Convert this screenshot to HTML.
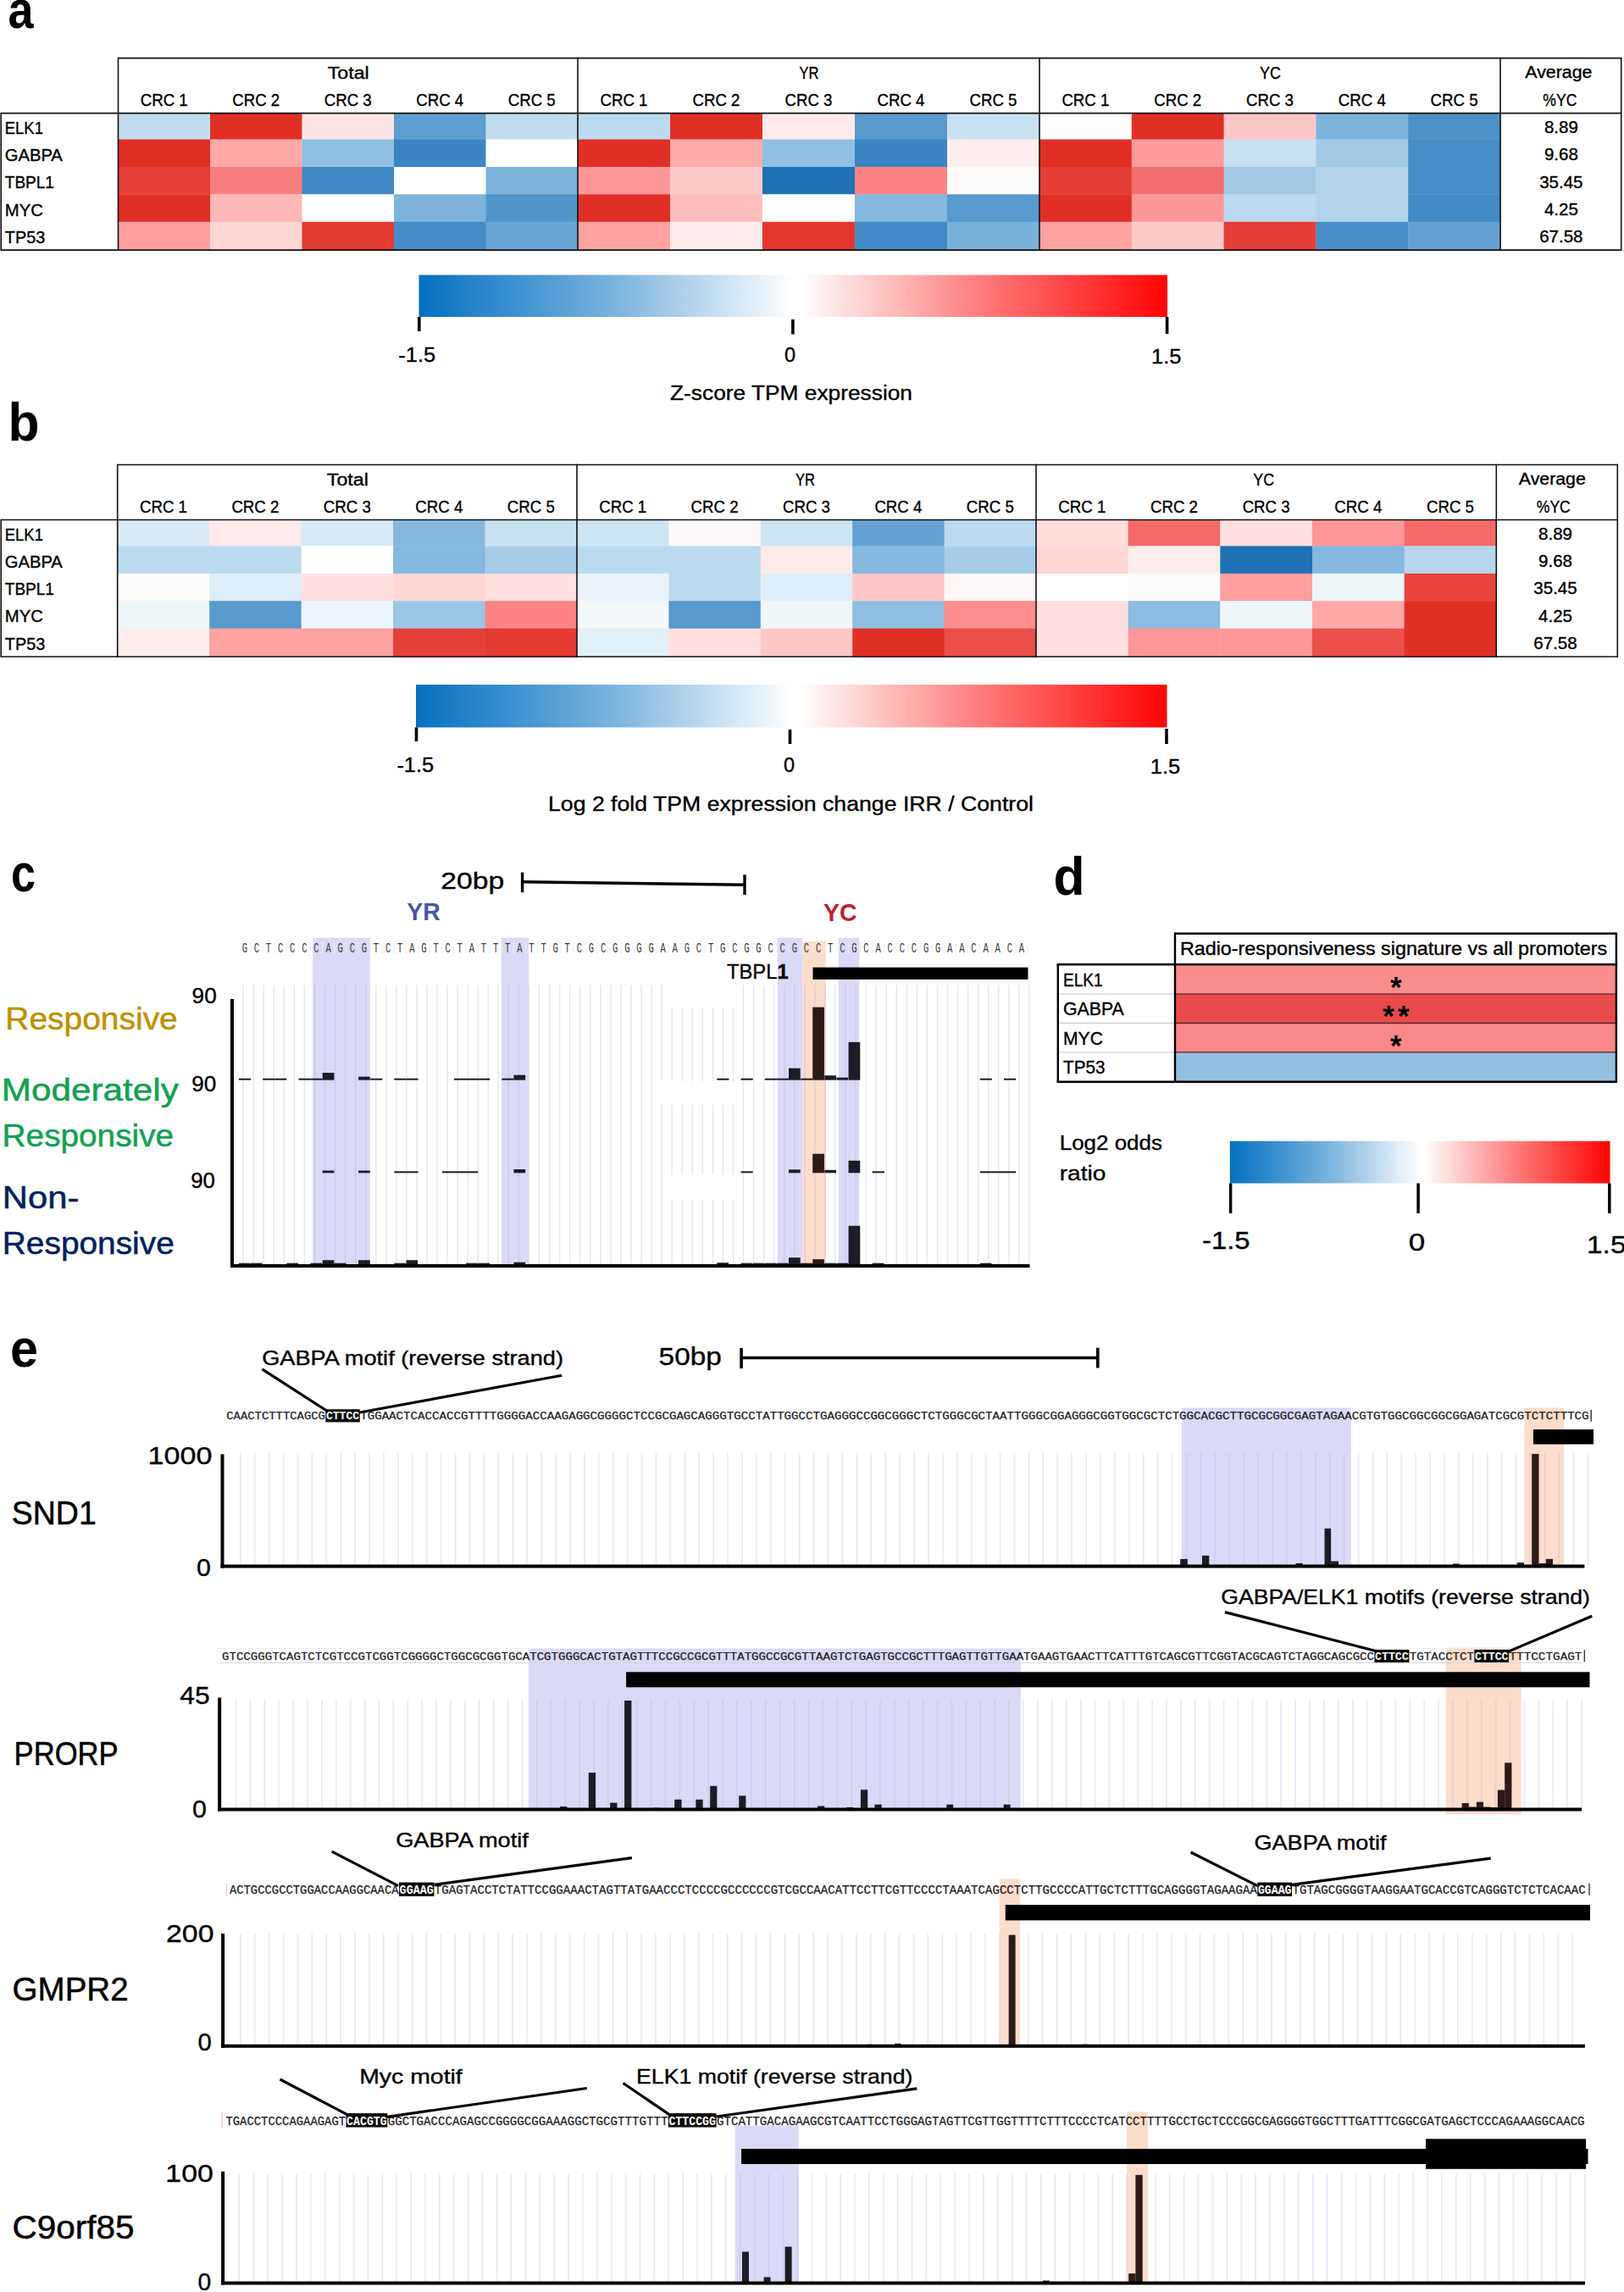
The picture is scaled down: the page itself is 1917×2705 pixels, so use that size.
<!DOCTYPE html>
<html lang="en"><head><meta charset="utf-8"><title>Figure</title>
<style>
html,body{margin:0;padding:0;background:#fff}
svg{display:block;font-family:"Liberation Sans",sans-serif}
</style></head>
<body>
<svg width="1917" height="2705" viewBox="0 0 1917 2705">
<defs>
<linearGradient id="cb" x1="0" y1="0" x2="1" y2="0">
<stop offset="0" stop-color="#0470c0"/><stop offset="0.25" stop-color="#74b0dc"/><stop offset="0.5" stop-color="#ffffff"/><stop offset="0.51" stop-color="#ffffff"/><stop offset="0.75" stop-color="#ff7c7c"/><stop offset="1" stop-color="#ff0303"/>
</linearGradient>
</defs>
<rect width="1917" height="2705" fill="#fff"/>
<text x="9.5" y="33.3" font-size="63" textLength="30" lengthAdjust="spacingAndGlyphs" font-weight="bold">a</text>
<rect x="139.5" y="133.6" width="108.9" height="31.3" fill="rgb(193,221,239)"/>
<rect x="248" y="133.6" width="108.9" height="31.3" fill="rgb(224,48,38)"/>
<rect x="356.5" y="133.6" width="108.9" height="31.3" fill="rgb(254,230,230)"/>
<rect x="465" y="133.6" width="108.9" height="31.3" fill="rgb(95,158,208)"/>
<rect x="573.5" y="133.6" width="108.9" height="31.3" fill="rgb(193,221,239)"/>
<rect x="139.5" y="164.5" width="108.9" height="32.9" fill="rgb(224,48,38)"/>
<rect x="248" y="164.5" width="108.9" height="32.9" fill="rgb(254,168,168)"/>
<rect x="356.5" y="164.5" width="108.9" height="32.9" fill="rgb(144,191,225)"/>
<rect x="465" y="164.5" width="108.9" height="32.9" fill="rgb(60,133,194)"/>
<rect x="573.5" y="164.5" width="108.9" height="32.9" fill="rgb(255,255,255)"/>
<rect x="139.5" y="197" width="108.9" height="32.7" fill="rgb(229,65,57)"/>
<rect x="248" y="197" width="108.9" height="32.7" fill="rgb(249,127,127)"/>
<rect x="356.5" y="197" width="108.9" height="32.7" fill="rgb(64,136,196)"/>
<rect x="465" y="197" width="108.9" height="32.7" fill="rgb(255,255,255)"/>
<rect x="573.5" y="197" width="108.9" height="32.7" fill="rgb(126,179,219)"/>
<rect x="139.5" y="229.3" width="108.9" height="32.9" fill="rgb(224,48,38)"/>
<rect x="248" y="229.3" width="108.9" height="32.9" fill="rgb(254,183,183)"/>
<rect x="356.5" y="229.3" width="108.9" height="32.9" fill="rgb(255,255,255)"/>
<rect x="465" y="229.3" width="108.9" height="32.9" fill="rgb(126,179,219)"/>
<rect x="573.5" y="229.3" width="108.9" height="32.9" fill="rgb(82,149,203)"/>
<rect x="139.5" y="261.8" width="108.9" height="33.7" fill="rgb(254,160,160)"/>
<rect x="248" y="261.8" width="108.9" height="33.7" fill="rgb(254,214,214)"/>
<rect x="356.5" y="261.8" width="108.9" height="33.7" fill="rgb(227,58,50)"/>
<rect x="465" y="261.8" width="108.9" height="33.7" fill="rgb(69,139,198)"/>
<rect x="573.5" y="261.8" width="108.9" height="33.7" fill="rgb(104,165,212)"/>
<rect x="682" y="133.6" width="109.4" height="31.3" fill="rgb(188,218,238)"/>
<rect x="791" y="133.6" width="109.4" height="31.3" fill="rgb(224,48,38)"/>
<rect x="900" y="133.6" width="109.4" height="31.3" fill="rgb(254,234,234)"/>
<rect x="1009" y="133.6" width="109.4" height="31.3" fill="rgb(88,154,206)"/>
<rect x="1118" y="133.6" width="109.4" height="31.3" fill="rgb(200,225,241)"/>
<rect x="682" y="164.5" width="109.4" height="32.9" fill="rgb(224,48,38)"/>
<rect x="791" y="164.5" width="109.4" height="32.9" fill="rgb(254,172,172)"/>
<rect x="900" y="164.5" width="109.4" height="32.9" fill="rgb(144,191,225)"/>
<rect x="1009" y="164.5" width="109.4" height="32.9" fill="rgb(60,133,194)"/>
<rect x="1118" y="164.5" width="109.4" height="32.9" fill="rgb(254,238,238)"/>
<rect x="682" y="197" width="109.4" height="32.7" fill="rgb(254,152,152)"/>
<rect x="791" y="197" width="109.4" height="32.7" fill="rgb(254,203,203)"/>
<rect x="900" y="197" width="109.4" height="32.7" fill="rgb(33,113,181)"/>
<rect x="1009" y="197" width="109.4" height="32.7" fill="rgb(251,131,131)"/>
<rect x="1118" y="197" width="109.4" height="32.7" fill="rgb(254,251,251)"/>
<rect x="682" y="229.3" width="109.4" height="32.9" fill="rgb(224,48,38)"/>
<rect x="791" y="229.3" width="109.4" height="32.9" fill="rgb(254,189,189)"/>
<rect x="900" y="229.3" width="109.4" height="32.9" fill="rgb(255,255,255)"/>
<rect x="1009" y="229.3" width="109.4" height="32.9" fill="rgb(133,184,222)"/>
<rect x="1118" y="229.3" width="109.4" height="32.9" fill="rgb(88,154,206)"/>
<rect x="682" y="261.8" width="109.4" height="33.7" fill="rgb(254,162,162)"/>
<rect x="791" y="261.8" width="109.4" height="33.7" fill="rgb(254,234,234)"/>
<rect x="900" y="261.8" width="109.4" height="33.7" fill="rgb(226,54,45)"/>
<rect x="1009" y="261.8" width="109.4" height="33.7" fill="rgb(66,138,197)"/>
<rect x="1118" y="261.8" width="109.4" height="33.7" fill="rgb(122,177,218)"/>
<rect x="1227" y="133.6" width="109.2" height="31.3" fill="rgb(254,253,253)"/>
<rect x="1335.8" y="133.6" width="109.2" height="31.3" fill="rgb(224,48,38)"/>
<rect x="1444.6" y="133.6" width="109.2" height="31.3" fill="rgb(254,199,199)"/>
<rect x="1553.4" y="133.6" width="109.2" height="31.3" fill="rgb(126,179,219)"/>
<rect x="1662.2" y="133.6" width="109.2" height="31.3" fill="rgb(77,146,201)"/>
<rect x="1227" y="164.5" width="109.2" height="32.9" fill="rgb(224,48,38)"/>
<rect x="1335.8" y="164.5" width="109.2" height="32.9" fill="rgb(254,156,156)"/>
<rect x="1444.6" y="164.5" width="109.2" height="32.9" fill="rgb(200,225,241)"/>
<rect x="1553.4" y="164.5" width="109.2" height="32.9" fill="rgb(162,202,230)"/>
<rect x="1662.2" y="164.5" width="109.2" height="32.9" fill="rgb(71,141,198)"/>
<rect x="1227" y="197" width="109.2" height="32.7" fill="rgb(229,62,55)"/>
<rect x="1335.8" y="197" width="109.2" height="32.7" fill="rgb(244,110,110)"/>
<rect x="1444.6" y="197" width="109.2" height="32.7" fill="rgb(162,202,230)"/>
<rect x="1553.4" y="197" width="109.2" height="32.7" fill="rgb(177,212,235)"/>
<rect x="1662.2" y="197" width="109.2" height="32.7" fill="rgb(71,141,198)"/>
<rect x="1227" y="229.3" width="109.2" height="32.9" fill="rgb(224,48,38)"/>
<rect x="1335.8" y="229.3" width="109.2" height="32.9" fill="rgb(254,152,152)"/>
<rect x="1444.6" y="229.3" width="109.2" height="32.9" fill="rgb(188,218,238)"/>
<rect x="1553.4" y="229.3" width="109.2" height="32.9" fill="rgb(177,212,235)"/>
<rect x="1662.2" y="229.3" width="109.2" height="32.9" fill="rgb(66,138,197)"/>
<rect x="1227" y="261.8" width="109.2" height="33.7" fill="rgb(254,162,162)"/>
<rect x="1335.8" y="261.8" width="109.2" height="33.7" fill="rgb(254,203,203)"/>
<rect x="1444.6" y="261.8" width="109.2" height="33.7" fill="rgb(229,62,55)"/>
<rect x="1553.4" y="261.8" width="109.2" height="33.7" fill="rgb(73,143,199)"/>
<rect x="1662.2" y="261.8" width="109.2" height="33.7" fill="rgb(100,161,210)"/>
<text x="411.25" y="92.9" font-size="20.5" text-anchor="middle" textLength="49" lengthAdjust="spacingAndGlyphs" stroke="#000" stroke-width="0.35">Total</text>
<text x="193.75" y="125" font-size="21" text-anchor="middle" textLength="56" lengthAdjust="spacingAndGlyphs" stroke="#000" stroke-width="0.35">CRC 1</text>
<text x="302.25" y="125" font-size="21" text-anchor="middle" textLength="56" lengthAdjust="spacingAndGlyphs" stroke="#000" stroke-width="0.35">CRC 2</text>
<text x="410.75" y="125" font-size="21" text-anchor="middle" textLength="56" lengthAdjust="spacingAndGlyphs" stroke="#000" stroke-width="0.35">CRC 3</text>
<text x="519.25" y="125" font-size="21" text-anchor="middle" textLength="56" lengthAdjust="spacingAndGlyphs" stroke="#000" stroke-width="0.35">CRC 4</text>
<text x="627.75" y="125" font-size="21" text-anchor="middle" textLength="56" lengthAdjust="spacingAndGlyphs" stroke="#000" stroke-width="0.35">CRC 5</text>
<text x="955" y="92.9" font-size="20.5" text-anchor="middle" textLength="23" lengthAdjust="spacingAndGlyphs" stroke="#000" stroke-width="0.35">YR</text>
<text x="736.5" y="125" font-size="21" text-anchor="middle" textLength="56" lengthAdjust="spacingAndGlyphs" stroke="#000" stroke-width="0.35">CRC 1</text>
<text x="845.5" y="125" font-size="21" text-anchor="middle" textLength="56" lengthAdjust="spacingAndGlyphs" stroke="#000" stroke-width="0.35">CRC 2</text>
<text x="954.5" y="125" font-size="21" text-anchor="middle" textLength="56" lengthAdjust="spacingAndGlyphs" stroke="#000" stroke-width="0.35">CRC 3</text>
<text x="1063.5" y="125" font-size="21" text-anchor="middle" textLength="56" lengthAdjust="spacingAndGlyphs" stroke="#000" stroke-width="0.35">CRC 4</text>
<text x="1172.5" y="125" font-size="21" text-anchor="middle" textLength="56" lengthAdjust="spacingAndGlyphs" stroke="#000" stroke-width="0.35">CRC 5</text>
<text x="1499.5" y="92.9" font-size="20.5" text-anchor="middle" textLength="24.8" lengthAdjust="spacingAndGlyphs" stroke="#000" stroke-width="0.35">YC</text>
<text x="1281.4" y="125" font-size="21" text-anchor="middle" textLength="56" lengthAdjust="spacingAndGlyphs" stroke="#000" stroke-width="0.35">CRC 1</text>
<text x="1390.2" y="125" font-size="21" text-anchor="middle" textLength="56" lengthAdjust="spacingAndGlyphs" stroke="#000" stroke-width="0.35">CRC 2</text>
<text x="1499" y="125" font-size="21" text-anchor="middle" textLength="56" lengthAdjust="spacingAndGlyphs" stroke="#000" stroke-width="0.35">CRC 3</text>
<text x="1607.8" y="125" font-size="21" text-anchor="middle" textLength="56" lengthAdjust="spacingAndGlyphs" stroke="#000" stroke-width="0.35">CRC 4</text>
<text x="1716.6" y="125" font-size="21" text-anchor="middle" textLength="56" lengthAdjust="spacingAndGlyphs" stroke="#000" stroke-width="0.35">CRC 5</text>
<text x="1839.85" y="92.3" font-size="20.5" text-anchor="middle" textLength="79" lengthAdjust="spacingAndGlyphs" stroke="#000" stroke-width="0.35">Average</text>
<text x="1841.35" y="125.3" font-size="20.5" text-anchor="middle" textLength="40" lengthAdjust="spacingAndGlyphs" stroke="#000" stroke-width="0.35">%YC</text>
<text x="5.8" y="157.6" font-size="21" textLength="45.1" lengthAdjust="spacingAndGlyphs" stroke="#000" stroke-width="0.35">ELK1</text>
<text x="1842.85" y="156.9" font-size="20.5" text-anchor="middle" stroke="#000" stroke-width="0.35">8.89</text>
<text x="5.8" y="189.9" font-size="21" textLength="68" lengthAdjust="spacingAndGlyphs" stroke="#000" stroke-width="0.35">GABPA</text>
<text x="1842.85" y="189.2" font-size="20.5" text-anchor="middle" stroke="#000" stroke-width="0.35">9.68</text>
<text x="5.8" y="222.2" font-size="21" textLength="58.1" lengthAdjust="spacingAndGlyphs" stroke="#000" stroke-width="0.35">TBPL1</text>
<text x="1842.85" y="221.5" font-size="20.5" text-anchor="middle" stroke="#000" stroke-width="0.35">35.45</text>
<text x="5.8" y="254.5" font-size="21" textLength="45.1" lengthAdjust="spacingAndGlyphs" stroke="#000" stroke-width="0.35">MYC</text>
<text x="1842.85" y="253.8" font-size="20.5" text-anchor="middle" stroke="#000" stroke-width="0.35">4.25</text>
<text x="5.8" y="286.8" font-size="21" textLength="47.5" lengthAdjust="spacingAndGlyphs" stroke="#000" stroke-width="0.35">TP53</text>
<text x="1842.85" y="286.1" font-size="20.5" text-anchor="middle" stroke="#000" stroke-width="0.35">67.58</text>
<line x1="139.5" y1="68.6" x2="1913.7" y2="68.6" stroke="#111" stroke-width="1.6"/>
<line x1="1.2" y1="133.6" x2="1913.7" y2="133.6" stroke="#111" stroke-width="1.6"/>
<line x1="1.2" y1="295.1" x2="1913.7" y2="295.1" stroke="#111" stroke-width="1.6"/>
<line x1="1.2" y1="132.8" x2="1.2" y2="295.9" stroke="#111" stroke-width="1.6"/>
<line x1="139.5" y1="67.8" x2="139.5" y2="295.9" stroke="#111" stroke-width="1.6"/>
<line x1="682" y1="67.8" x2="682" y2="295.9" stroke="#111" stroke-width="1.6"/>
<line x1="1227" y1="67.8" x2="1227" y2="295.9" stroke="#111" stroke-width="1.6"/>
<line x1="1771" y1="67.8" x2="1771" y2="295.9" stroke="#111" stroke-width="1.6"/>
<line x1="1913.7" y1="67.8" x2="1913.7" y2="295.9" stroke="#111" stroke-width="1.6"/>
<rect x="494.5" y="324.5" width="883.5" height="49.5" fill="url(#cb)"/>
<line x1="494.8" y1="374" x2="494.8" y2="391" stroke="#000" stroke-width="3.6"/>
<line x1="935.9" y1="377" x2="935.9" y2="394.5" stroke="#000" stroke-width="3.6"/>
<line x1="1377.6" y1="374" x2="1377.6" y2="394" stroke="#000" stroke-width="3.6"/>
<text x="492.2" y="427.2" font-size="23.5" text-anchor="middle" textLength="43.8" lengthAdjust="spacingAndGlyphs" stroke="#000" stroke-width="0.35">-1.5</text>
<text x="932.6" y="427.2" font-size="23.5" text-anchor="middle" stroke="#000" stroke-width="0.35">0</text>
<text x="1376.7" y="429" font-size="23.5" text-anchor="middle" textLength="35.5" lengthAdjust="spacingAndGlyphs" stroke="#000" stroke-width="0.35">1.5</text>
<text x="791" y="472" font-size="23" textLength="286" lengthAdjust="spacingAndGlyphs" stroke="#000" stroke-width="0.35">Z-score TPM expression</text>
<text x="9.5" y="520.2" font-size="63" textLength="37" lengthAdjust="spacingAndGlyphs" font-weight="bold">b</text>
<rect x="138.7" y="613.5" width="108.86" height="31.3" fill="rgb(215,234,245)"/>
<rect x="247.16" y="613.5" width="108.86" height="31.3" fill="rgb(254,234,234)"/>
<rect x="355.62" y="613.5" width="108.86" height="31.3" fill="rgb(215,234,245)"/>
<rect x="464.08" y="613.5" width="108.86" height="31.3" fill="rgb(133,184,222)"/>
<rect x="572.54" y="613.5" width="108.86" height="31.3" fill="rgb(200,225,241)"/>
<rect x="138.7" y="644.4" width="108.86" height="32.9" fill="rgb(188,218,238)"/>
<rect x="247.16" y="644.4" width="108.86" height="32.9" fill="rgb(188,218,238)"/>
<rect x="355.62" y="644.4" width="108.86" height="32.9" fill="rgb(255,255,255)"/>
<rect x="464.08" y="644.4" width="108.86" height="32.9" fill="rgb(133,184,222)"/>
<rect x="572.54" y="644.4" width="108.86" height="32.9" fill="rgb(166,205,232)"/>
<rect x="138.7" y="676.9" width="108.86" height="32.7" fill="rgb(254,251,251)"/>
<rect x="247.16" y="676.9" width="108.86" height="32.7" fill="rgb(222,237,247)"/>
<rect x="355.62" y="676.9" width="108.86" height="32.7" fill="rgb(254,224,224)"/>
<rect x="464.08" y="676.9" width="108.86" height="32.7" fill="rgb(254,214,214)"/>
<rect x="572.54" y="676.9" width="108.86" height="32.7" fill="rgb(254,224,224)"/>
<rect x="138.7" y="709.2" width="108.86" height="32.9" fill="rgb(239,247,251)"/>
<rect x="247.16" y="709.2" width="108.86" height="32.9" fill="rgb(88,154,206)"/>
<rect x="355.62" y="709.2" width="108.86" height="32.9" fill="rgb(237,246,251)"/>
<rect x="464.08" y="709.2" width="108.86" height="32.9" fill="rgb(155,198,229)"/>
<rect x="572.54" y="709.2" width="108.86" height="32.9" fill="rgb(251,131,131)"/>
<rect x="138.7" y="741.7" width="108.86" height="33.7" fill="rgb(254,238,238)"/>
<rect x="247.16" y="741.7" width="108.86" height="33.7" fill="rgb(254,162,162)"/>
<rect x="355.62" y="741.7" width="108.86" height="33.7" fill="rgb(254,162,162)"/>
<rect x="464.08" y="741.7" width="108.86" height="33.7" fill="rgb(229,65,57)"/>
<rect x="572.54" y="741.7" width="108.86" height="33.7" fill="rgb(227,58,50)"/>
<rect x="681" y="613.5" width="108.8" height="31.3" fill="rgb(206,229,243)"/>
<rect x="789.4" y="613.5" width="108.8" height="31.3" fill="rgb(254,249,249)"/>
<rect x="897.8" y="613.5" width="108.8" height="31.3" fill="rgb(206,229,243)"/>
<rect x="1006.2" y="613.5" width="108.8" height="31.3" fill="rgb(100,161,210)"/>
<rect x="1114.6" y="613.5" width="108.8" height="31.3" fill="rgb(188,218,238)"/>
<rect x="681" y="644.4" width="108.8" height="32.9" fill="rgb(188,218,238)"/>
<rect x="789.4" y="644.4" width="108.8" height="32.9" fill="rgb(188,218,238)"/>
<rect x="897.8" y="644.4" width="108.8" height="32.9" fill="rgb(254,234,234)"/>
<rect x="1006.2" y="644.4" width="108.8" height="32.9" fill="rgb(133,184,222)"/>
<rect x="1114.6" y="644.4" width="108.8" height="32.9" fill="rgb(166,205,232)"/>
<rect x="681" y="676.9" width="108.8" height="32.7" fill="rgb(233,243,249)"/>
<rect x="789.4" y="676.9" width="108.8" height="32.7" fill="rgb(188,218,238)"/>
<rect x="897.8" y="676.9" width="108.8" height="32.7" fill="rgb(222,237,247)"/>
<rect x="1006.2" y="676.9" width="108.8" height="32.7" fill="rgb(254,199,199)"/>
<rect x="1114.6" y="676.9" width="108.8" height="32.7" fill="rgb(254,247,247)"/>
<rect x="681" y="709.2" width="108.8" height="32.9" fill="rgb(244,249,252)"/>
<rect x="789.4" y="709.2" width="108.8" height="32.9" fill="rgb(88,154,206)"/>
<rect x="897.8" y="709.2" width="108.8" height="32.9" fill="rgb(239,247,251)"/>
<rect x="1006.2" y="709.2" width="108.8" height="32.9" fill="rgb(144,191,225)"/>
<rect x="1114.6" y="709.2" width="108.8" height="32.9" fill="rgb(254,141,141)"/>
<rect x="681" y="741.7" width="108.8" height="33.7" fill="rgb(226,240,248)"/>
<rect x="789.4" y="741.7" width="108.8" height="33.7" fill="rgb(254,224,224)"/>
<rect x="897.8" y="741.7" width="108.8" height="33.7" fill="rgb(254,199,199)"/>
<rect x="1006.2" y="741.7" width="108.8" height="33.7" fill="rgb(224,48,38)"/>
<rect x="1114.6" y="741.7" width="108.8" height="33.7" fill="rgb(234,79,74)"/>
<rect x="1223" y="613.5" width="109.06" height="31.3" fill="rgb(254,220,220)"/>
<rect x="1331.66" y="613.5" width="109.06" height="31.3" fill="rgb(243,106,105)"/>
<rect x="1440.32" y="613.5" width="109.06" height="31.3" fill="rgb(254,224,224)"/>
<rect x="1548.98" y="613.5" width="109.06" height="31.3" fill="rgb(254,152,152)"/>
<rect x="1657.64" y="613.5" width="109.06" height="31.3" fill="rgb(243,106,105)"/>
<rect x="1223" y="644.4" width="109.06" height="32.9" fill="rgb(254,214,214)"/>
<rect x="1331.66" y="644.4" width="109.06" height="32.9" fill="rgb(254,238,238)"/>
<rect x="1440.32" y="644.4" width="109.06" height="32.9" fill="rgb(33,113,181)"/>
<rect x="1548.98" y="644.4" width="109.06" height="32.9" fill="rgb(133,184,222)"/>
<rect x="1657.64" y="644.4" width="109.06" height="32.9" fill="rgb(182,214,236)"/>
<rect x="1223" y="676.9" width="109.06" height="32.7" fill="rgb(255,255,255)"/>
<rect x="1331.66" y="676.9" width="109.06" height="32.7" fill="rgb(254,251,251)"/>
<rect x="1440.32" y="676.9" width="109.06" height="32.7" fill="rgb(254,158,158)"/>
<rect x="1548.98" y="676.9" width="109.06" height="32.7" fill="rgb(239,247,251)"/>
<rect x="1657.64" y="676.9" width="109.06" height="32.7" fill="rgb(231,69,62)"/>
<rect x="1223" y="709.2" width="109.06" height="32.9" fill="rgb(254,224,224)"/>
<rect x="1331.66" y="709.2" width="109.06" height="32.9" fill="rgb(140,188,224)"/>
<rect x="1440.32" y="709.2" width="109.06" height="32.9" fill="rgb(239,247,251)"/>
<rect x="1548.98" y="709.2" width="109.06" height="32.9" fill="rgb(254,168,168)"/>
<rect x="1657.64" y="709.2" width="109.06" height="32.9" fill="rgb(224,48,38)"/>
<rect x="1223" y="741.7" width="109.06" height="33.7" fill="rgb(254,224,224)"/>
<rect x="1331.66" y="741.7" width="109.06" height="33.7" fill="rgb(254,152,152)"/>
<rect x="1440.32" y="741.7" width="109.06" height="33.7" fill="rgb(254,152,152)"/>
<rect x="1548.98" y="741.7" width="109.06" height="33.7" fill="rgb(234,79,74)"/>
<rect x="1657.64" y="741.7" width="109.06" height="33.7" fill="rgb(224,48,38)"/>
<text x="410.35" y="572.8" font-size="20.5" text-anchor="middle" textLength="49" lengthAdjust="spacingAndGlyphs" stroke="#000" stroke-width="0.35">Total</text>
<text x="192.93" y="604.9" font-size="21" text-anchor="middle" textLength="56" lengthAdjust="spacingAndGlyphs" stroke="#000" stroke-width="0.35">CRC 1</text>
<text x="301.39" y="604.9" font-size="21" text-anchor="middle" textLength="56" lengthAdjust="spacingAndGlyphs" stroke="#000" stroke-width="0.35">CRC 2</text>
<text x="409.85" y="604.9" font-size="21" text-anchor="middle" textLength="56" lengthAdjust="spacingAndGlyphs" stroke="#000" stroke-width="0.35">CRC 3</text>
<text x="518.31" y="604.9" font-size="21" text-anchor="middle" textLength="56" lengthAdjust="spacingAndGlyphs" stroke="#000" stroke-width="0.35">CRC 4</text>
<text x="626.77" y="604.9" font-size="21" text-anchor="middle" textLength="56" lengthAdjust="spacingAndGlyphs" stroke="#000" stroke-width="0.35">CRC 5</text>
<text x="950.5" y="572.8" font-size="20.5" text-anchor="middle" textLength="23" lengthAdjust="spacingAndGlyphs" stroke="#000" stroke-width="0.35">YR</text>
<text x="735.2" y="604.9" font-size="21" text-anchor="middle" textLength="56" lengthAdjust="spacingAndGlyphs" stroke="#000" stroke-width="0.35">CRC 1</text>
<text x="843.6" y="604.9" font-size="21" text-anchor="middle" textLength="56" lengthAdjust="spacingAndGlyphs" stroke="#000" stroke-width="0.35">CRC 2</text>
<text x="952" y="604.9" font-size="21" text-anchor="middle" textLength="56" lengthAdjust="spacingAndGlyphs" stroke="#000" stroke-width="0.35">CRC 3</text>
<text x="1060.4" y="604.9" font-size="21" text-anchor="middle" textLength="56" lengthAdjust="spacingAndGlyphs" stroke="#000" stroke-width="0.35">CRC 4</text>
<text x="1168.8" y="604.9" font-size="21" text-anchor="middle" textLength="56" lengthAdjust="spacingAndGlyphs" stroke="#000" stroke-width="0.35">CRC 5</text>
<text x="1491.65" y="572.8" font-size="20.5" text-anchor="middle" textLength="24.8" lengthAdjust="spacingAndGlyphs" stroke="#000" stroke-width="0.35">YC</text>
<text x="1277.33" y="604.9" font-size="21" text-anchor="middle" textLength="56" lengthAdjust="spacingAndGlyphs" stroke="#000" stroke-width="0.35">CRC 1</text>
<text x="1385.99" y="604.9" font-size="21" text-anchor="middle" textLength="56" lengthAdjust="spacingAndGlyphs" stroke="#000" stroke-width="0.35">CRC 2</text>
<text x="1494.65" y="604.9" font-size="21" text-anchor="middle" textLength="56" lengthAdjust="spacingAndGlyphs" stroke="#000" stroke-width="0.35">CRC 3</text>
<text x="1603.31" y="604.9" font-size="21" text-anchor="middle" textLength="56" lengthAdjust="spacingAndGlyphs" stroke="#000" stroke-width="0.35">CRC 4</text>
<text x="1711.97" y="604.9" font-size="21" text-anchor="middle" textLength="56" lengthAdjust="spacingAndGlyphs" stroke="#000" stroke-width="0.35">CRC 5</text>
<text x="1832.3" y="572.2" font-size="20.5" text-anchor="middle" textLength="79" lengthAdjust="spacingAndGlyphs" stroke="#000" stroke-width="0.35">Average</text>
<text x="1833.8" y="605.2" font-size="20.5" text-anchor="middle" textLength="40" lengthAdjust="spacingAndGlyphs" stroke="#000" stroke-width="0.35">%YC</text>
<text x="5.8" y="637.5" font-size="21" textLength="45.1" lengthAdjust="spacingAndGlyphs" stroke="#000" stroke-width="0.35">ELK1</text>
<text x="1836" y="636.8" font-size="20.5" text-anchor="middle" stroke="#000" stroke-width="0.35">8.89</text>
<text x="5.8" y="669.8" font-size="21" textLength="68" lengthAdjust="spacingAndGlyphs" stroke="#000" stroke-width="0.35">GABPA</text>
<text x="1836" y="669.1" font-size="20.5" text-anchor="middle" stroke="#000" stroke-width="0.35">9.68</text>
<text x="5.8" y="702.1" font-size="21" textLength="58.1" lengthAdjust="spacingAndGlyphs" stroke="#000" stroke-width="0.35">TBPL1</text>
<text x="1836" y="701.4" font-size="20.5" text-anchor="middle" stroke="#000" stroke-width="0.35">35.45</text>
<text x="5.8" y="734.4" font-size="21" textLength="45.1" lengthAdjust="spacingAndGlyphs" stroke="#000" stroke-width="0.35">MYC</text>
<text x="1836" y="733.7" font-size="20.5" text-anchor="middle" stroke="#000" stroke-width="0.35">4.25</text>
<text x="5.8" y="766.7" font-size="21" textLength="47.5" lengthAdjust="spacingAndGlyphs" stroke="#000" stroke-width="0.35">TP53</text>
<text x="1836" y="766" font-size="20.5" text-anchor="middle" stroke="#000" stroke-width="0.35">67.58</text>
<line x1="138.7" y1="548.5" x2="1909.3" y2="548.5" stroke="#111" stroke-width="1.6"/>
<line x1="1.2" y1="613.5" x2="1909.3" y2="613.5" stroke="#111" stroke-width="1.6"/>
<line x1="1.2" y1="775" x2="1909.3" y2="775" stroke="#111" stroke-width="1.6"/>
<line x1="1.2" y1="612.7" x2="1.2" y2="775.8" stroke="#111" stroke-width="1.6"/>
<line x1="138.7" y1="547.7" x2="138.7" y2="775.8" stroke="#111" stroke-width="1.6"/>
<line x1="681" y1="547.7" x2="681" y2="775.8" stroke="#111" stroke-width="1.6"/>
<line x1="1223" y1="547.7" x2="1223" y2="775.8" stroke="#111" stroke-width="1.6"/>
<line x1="1766.3" y1="547.7" x2="1766.3" y2="775.8" stroke="#111" stroke-width="1.6"/>
<line x1="1909.3" y1="547.7" x2="1909.3" y2="775.8" stroke="#111" stroke-width="1.6"/>
<rect x="491" y="808" width="886.5" height="50.5" fill="url(#cb)"/>
<line x1="491.5" y1="858.5" x2="491.5" y2="875" stroke="#000" stroke-width="3.6"/>
<line x1="932.5" y1="861" x2="932.5" y2="878" stroke="#000" stroke-width="3.6"/>
<line x1="1377" y1="860" x2="1377" y2="878" stroke="#000" stroke-width="3.6"/>
<text x="490.3" y="910.8" font-size="23.5" text-anchor="middle" textLength="43.8" lengthAdjust="spacingAndGlyphs" stroke="#000" stroke-width="0.35">-1.5</text>
<text x="931.5" y="910.8" font-size="23.5" text-anchor="middle" stroke="#000" stroke-width="0.35">0</text>
<text x="1375.5" y="912.8" font-size="23.5" text-anchor="middle" textLength="35.5" lengthAdjust="spacingAndGlyphs" stroke="#000" stroke-width="0.35">1.5</text>
<text x="647" y="956.5" font-size="23" textLength="573" lengthAdjust="spacingAndGlyphs" stroke="#000" stroke-width="0.35">Log 2 fold TPM expression change IRR / Control</text>
<text x="13" y="1052.2" font-size="63" textLength="29" lengthAdjust="spacingAndGlyphs" font-weight="bold">c</text>
<text x="520.2" y="1049.3" font-size="28" textLength="75" lengthAdjust="spacingAndGlyphs" stroke="#000" stroke-width="0.35">20bp</text>
<line x1="616.6" y1="1040.8" x2="879" y2="1044.3" stroke="#000" stroke-width="3.4"/>
<line x1="616.6" y1="1029.6" x2="616.6" y2="1053.2" stroke="#000" stroke-width="3.4"/>
<line x1="879" y1="1032.3" x2="879" y2="1056" stroke="#000" stroke-width="3.4"/>
<text x="480.3" y="1086" font-size="30" textLength="39.5" lengthAdjust="spacingAndGlyphs" font-weight="bold" fill="#4a55a8">YR</text>
<text x="972" y="1086.7" font-size="30" textLength="39.5" lengthAdjust="spacingAndGlyphs" font-weight="bold" fill="#c0202d">YC</text>
<rect x="369.1" y="1106.7" width="67.7" height="387.3" fill="#dadaf7"/>
<rect x="591.8" y="1106.7" width="32.2" height="387.3" fill="#dadaf7"/>
<rect x="917.8" y="1106.7" width="29.6" height="387.3" fill="#dadaf7"/>
<rect x="989.8" y="1106.7" width="24.6" height="387.3" fill="#dadaf7"/>
<rect x="947.4" y="1111" width="27.6" height="383" fill="#fcddcc"/>
<path d="M287.1 1162.7V1492M299.15 1162.7V1492M311.2 1162.7V1492M323.25 1162.7V1492M335.3 1162.7V1492M347.35 1162.7V1492M359.4 1162.7V1492M371.45 1162.7V1492M383.5 1162.7V1492M395.55 1162.7V1492M407.6 1162.7V1492M419.65 1162.7V1492M431.7 1162.7V1492M443.75 1162.7V1492M455.8 1162.7V1492M467.85 1162.7V1492M479.9 1162.7V1492M491.95 1162.7V1492M504 1162.7V1492M516.05 1162.7V1492M528.1 1162.7V1492M540.15 1162.7V1492M552.2 1162.7V1492M564.25 1162.7V1492M576.3 1162.7V1492M588.35 1162.7V1492M600.4 1162.7V1492M612.45 1162.7V1492M624.5 1162.7V1492M636.55 1162.7V1492M648.6 1162.7V1492M660.65 1162.7V1492M672.7 1162.7V1492M684.75 1162.7V1492M696.8 1162.7V1492M708.85 1162.7V1492M720.9 1162.7V1492M732.95 1162.7V1492M745 1162.7V1492M757.05 1162.7V1492M769.1 1162.7V1492M781.15 1162.7V1492M793.2 1162.7V1492M805.25 1162.7V1492M817.3 1162.7V1492M829.35 1162.7V1492M841.4 1162.7V1492M853.45 1162.7V1492M865.5 1162.7V1492M877.55 1162.7V1492M889.6 1162.7V1492M901.65 1162.7V1492M913.7 1162.7V1492M925.75 1162.7V1492M937.8 1162.7V1492M949.85 1162.7V1492M961.9 1162.7V1492M973.95 1162.7V1492M986 1162.7V1492M998.05 1162.7V1492M1010.1 1162.7V1492M1022.15 1162.7V1492M1034.2 1162.7V1492M1046.25 1162.7V1492M1058.3 1162.7V1492M1070.35 1162.7V1492M1082.4 1162.7V1492M1094.45 1162.7V1492M1106.5 1162.7V1492M1118.55 1162.7V1492M1130.6 1162.7V1492M1142.65 1162.7V1492M1154.7 1162.7V1492M1166.75 1162.7V1492M1178.8 1162.7V1492M1190.85 1162.7V1492M1202.9 1162.7V1492M1214.95 1162.7V1492" stroke="#9a9ad0" stroke-opacity="0.25" stroke-width="1.4" fill="none"/>
<rect x="791" y="1161" width="81.5" height="28" fill="#fff"/>
<rect x="779" y="1276" width="93.5" height="28" fill="#fff"/>
<rect x="791" y="1386" width="81.5" height="29.5" fill="#fff"/>
<text transform="scale(0.62,1)" x="465.81 488.57 511.33 534.09 556.85 579.6 602.36 625.12 647.88 670.64 693.4 716.15 738.91 761.67 784.43 807.19 829.94 852.7 875.46 898.22 920.98 943.73 966.49 989.25 1012.01 1034.77 1057.52 1080.28 1103.04 1125.8 1148.56 1171.31 1194.07 1216.83 1239.59 1262.35 1285.1 1307.86 1330.62 1353.38 1376.14 1398.9 1421.65 1444.41 1467.17 1489.93 1512.69 1535.44 1558.2 1580.96 1603.72 1626.48 1649.23 1671.99 1694.75 1717.51 1740.27 1763.02 1785.78 1808.54 1831.3 1854.06 1876.81 1899.57 1922.33 1945.09" y="1124.3" font-size="17" text-anchor="middle" fill="#3a3a3a" font-family='"Liberation Mono", monospace'>GCTCCCCAGCGTCTAGTCTATTTATTGTCGCGGGGAAGCTGCGGCCGCCTCGCACCCGGAACAACA</text>
<path d="M295.86 1113V1125M309.97 1113V1125M324.08 1113V1125M338.19 1113V1125M352.3 1113V1125M366.41 1113V1125M380.52 1113V1125M394.63 1113V1125M408.74 1113V1125M422.85 1113V1125M436.96 1113V1125M451.07 1113V1125M465.18 1113V1125M479.29 1113V1125M493.4 1113V1125M507.51 1113V1125M521.62 1113V1125M535.73 1113V1125M549.84 1113V1125M563.95 1113V1125M578.06 1113V1125M592.17 1113V1125M606.28 1113V1125M620.39 1113V1125M634.5 1113V1125M648.61 1113V1125M662.72 1113V1125M676.83 1113V1125M690.94 1113V1125M705.05 1113V1125M719.16 1113V1125M733.27 1113V1125M747.38 1113V1125M761.49 1113V1125M775.6 1113V1125M789.71 1113V1125M803.82 1113V1125M817.93 1113V1125M832.04 1113V1125M846.15 1113V1125M860.26 1113V1125M874.37 1113V1125M888.48 1113V1125M902.59 1113V1125M916.7 1113V1125M930.81 1113V1125M944.92 1113V1125M959.03 1113V1125M973.14 1113V1125M987.25 1113V1125M1001.36 1113V1125M1015.47 1113V1125M1029.58 1113V1125M1043.69 1113V1125M1057.8 1113V1125M1071.91 1113V1125M1086.02 1113V1125M1100.13 1113V1125M1114.24 1113V1125M1128.35 1113V1125M1142.46 1113V1125M1156.57 1113V1125M1170.68 1113V1125M1184.79 1113V1125M1198.9 1113V1125M1213.01 1113V1125" stroke="#ededed" stroke-width="1" fill="none"/>
<rect x="959.5" y="1141.7" width="254" height="14.3" fill="#000"/>
<text x="858" y="1155.3" font-size="24" textLength="72.6" lengthAdjust="spacingAndGlyphs" stroke="#000" stroke-width="0.35">TBPL<tspan font-weight="bold">1</tspan></text>
<rect x="281.95" y="1272.7" width="14.11" height="2" fill="#1c1c24"/>
<rect x="310.17" y="1272.7" width="14.11" height="2" fill="#1c1c24"/>
<rect x="324.28" y="1272.7" width="14.11" height="2" fill="#1c1c24"/>
<rect x="352.5" y="1272.7" width="14.11" height="2" fill="#1c1c24"/>
<rect x="366.61" y="1272.7" width="14.11" height="2" fill="#1c1c24"/>
<rect x="380.72" y="1266.1" width="13.71" height="8.6" fill="#1c1c24"/>
<rect x="423.05" y="1270.7" width="13.71" height="4" fill="#1c1c24"/>
<rect x="437.16" y="1272.7" width="14.11" height="2" fill="#1c1c24"/>
<rect x="465.38" y="1272.7" width="14.11" height="2" fill="#1c1c24"/>
<rect x="479.49" y="1272.7" width="14.11" height="2" fill="#1c1c24"/>
<rect x="535.93" y="1272.7" width="14.11" height="2" fill="#1c1c24"/>
<rect x="550.04" y="1272.7" width="14.11" height="2" fill="#1c1c24"/>
<rect x="564.15" y="1272.7" width="14.11" height="2" fill="#1c1c24"/>
<rect x="592.37" y="1272.7" width="14.11" height="2" fill="#1c1c24"/>
<rect x="606.48" y="1268.7" width="13.71" height="6" fill="#1c1c24"/>
<rect x="846.35" y="1272.7" width="14.11" height="2" fill="#1c1c24"/>
<rect x="874.57" y="1272.7" width="14.11" height="2" fill="#1c1c24"/>
<rect x="902.79" y="1272.7" width="14.11" height="2" fill="#1c1c24"/>
<rect x="916.9" y="1272.7" width="14.11" height="2" fill="#1c1c24"/>
<rect x="931.01" y="1260.7" width="13.71" height="14" fill="#1c1c24"/>
<rect x="945.12" y="1272.7" width="14.11" height="2" fill="#2b1a16"/>
<rect x="959.23" y="1188.7" width="13.71" height="86" fill="#2b1a16"/>
<rect x="973.34" y="1269.3" width="13.71" height="5.4" fill="#1c1c24"/>
<rect x="987.45" y="1271.7" width="13.71" height="3" fill="#1c1c24"/>
<rect x="1001.56" y="1229.9" width="13.71" height="44.8" fill="#1c1c24"/>
<rect x="1156.77" y="1272.7" width="14.11" height="2" fill="#1c1c24"/>
<rect x="1184.99" y="1272.7" width="14.11" height="2" fill="#1c1c24"/>
<rect x="380.72" y="1381.5" width="13.71" height="2.8" fill="#1c1c24"/>
<rect x="423.05" y="1381.5" width="13.71" height="2.8" fill="#1c1c24"/>
<rect x="465.38" y="1382.3" width="14.11" height="2" fill="#1c1c24"/>
<rect x="479.49" y="1382.3" width="14.11" height="2" fill="#1c1c24"/>
<rect x="521.82" y="1382.3" width="14.11" height="2" fill="#1c1c24"/>
<rect x="535.93" y="1382.3" width="14.11" height="2" fill="#1c1c24"/>
<rect x="550.04" y="1382.3" width="14.11" height="2" fill="#1c1c24"/>
<rect x="606.48" y="1380" width="13.71" height="4.3" fill="#1c1c24"/>
<rect x="874.57" y="1382.3" width="14.11" height="2" fill="#1c1c24"/>
<rect x="931.01" y="1380.3" width="13.71" height="4" fill="#1c1c24"/>
<rect x="959.23" y="1361.7" width="13.71" height="22.6" fill="#2b1a16"/>
<rect x="973.34" y="1380.8" width="13.71" height="3.5" fill="#1c1c24"/>
<rect x="1001.56" y="1369.8" width="13.71" height="14.5" fill="#1c1c24"/>
<rect x="1029.78" y="1382.3" width="14.11" height="2" fill="#1c1c24"/>
<rect x="1156.77" y="1382.3" width="14.11" height="2" fill="#1c1c24"/>
<rect x="1170.88" y="1382.3" width="14.11" height="2" fill="#1c1c24"/>
<rect x="1184.99" y="1382.3" width="14.11" height="2" fill="#1c1c24"/>
<rect x="281.95" y="1490.7" width="13.71" height="1.5" fill="#1c1c24"/>
<rect x="296.06" y="1490.7" width="13.71" height="1.5" fill="#1c1c24"/>
<rect x="338.39" y="1490.7" width="13.71" height="1.5" fill="#1c1c24"/>
<rect x="366.61" y="1490.7" width="13.71" height="1.5" fill="#1c1c24"/>
<rect x="380.72" y="1487.2" width="13.71" height="5" fill="#1c1c24"/>
<rect x="394.83" y="1490.7" width="13.71" height="1.5" fill="#1c1c24"/>
<rect x="423.05" y="1487.2" width="13.71" height="5" fill="#1c1c24"/>
<rect x="465.38" y="1490.7" width="13.71" height="1.5" fill="#1c1c24"/>
<rect x="479.49" y="1487.2" width="13.71" height="5" fill="#1c1c24"/>
<rect x="550.04" y="1490.7" width="13.71" height="1.5" fill="#1c1c24"/>
<rect x="564.15" y="1490.7" width="13.71" height="1.5" fill="#1c1c24"/>
<rect x="606.48" y="1489.7" width="13.71" height="2.5" fill="#1c1c24"/>
<rect x="846.35" y="1490.2" width="13.71" height="2" fill="#1c1c24"/>
<rect x="874.57" y="1490.7" width="13.71" height="1.5" fill="#1c1c24"/>
<rect x="888.68" y="1490.7" width="13.71" height="1.5" fill="#1c1c24"/>
<rect x="902.79" y="1490.7" width="13.71" height="1.5" fill="#1c1c24"/>
<rect x="916.9" y="1490.7" width="13.71" height="1.5" fill="#1c1c24"/>
<rect x="931.01" y="1484.2" width="13.71" height="8" fill="#1c1c24"/>
<rect x="945.12" y="1490.7" width="13.71" height="1.5" fill="#2b1a16"/>
<rect x="959.23" y="1486.2" width="13.71" height="6" fill="#2b1a16"/>
<rect x="973.34" y="1490.7" width="13.71" height="1.5" fill="#1c1c24"/>
<rect x="987.45" y="1490.7" width="13.71" height="1.5" fill="#1c1c24"/>
<rect x="1001.56" y="1446.7" width="13.71" height="45.5" fill="#1c1c24"/>
<rect x="1029.78" y="1490.7" width="13.71" height="1.5" fill="#1c1c24"/>
<rect x="1156.77" y="1490.7" width="13.71" height="1.5" fill="#1c1c24"/>
<line x1="274" y1="1179" x2="274" y2="1496" stroke="#000" stroke-width="4"/>
<line x1="272" y1="1494" x2="1215.5" y2="1494" stroke="#000" stroke-width="4"/>
<text x="6.3" y="1215" font-size="37" textLength="203.5" lengthAdjust="spacingAndGlyphs" fill="#bf9000" stroke="#bf9000" stroke-width="0.5">Responsive</text>
<text x="1.8" y="1299.3" font-size="37" textLength="209" lengthAdjust="spacingAndGlyphs" fill="#12a150" stroke="#12a150" stroke-width="0.5">Moderately</text>
<text x="2.6" y="1353" font-size="37" textLength="202.5" lengthAdjust="spacingAndGlyphs" fill="#12a150" stroke="#12a150" stroke-width="0.5">Responsive</text>
<text x="2.8" y="1426" font-size="37" textLength="90.5" lengthAdjust="spacingAndGlyphs" fill="#002060" stroke="#002060" stroke-width="0.5">Non-</text>
<text x="2.8" y="1480.3" font-size="37" textLength="203" lengthAdjust="spacingAndGlyphs" fill="#002060" stroke="#002060" stroke-width="0.5">Responsive</text>
<text x="226.6" y="1183.5" font-size="25" textLength="29.1" lengthAdjust="spacingAndGlyphs" stroke="#000" stroke-width="0.35">90</text>
<text x="226.3" y="1288.2" font-size="25" textLength="29.1" lengthAdjust="spacingAndGlyphs" stroke="#000" stroke-width="0.35">90</text>
<text x="225.2" y="1401.5" font-size="25" textLength="28.7" lengthAdjust="spacingAndGlyphs" stroke="#000" stroke-width="0.35">90</text>
<text x="1243.6" y="1055.8" font-size="63" textLength="37" lengthAdjust="spacingAndGlyphs" font-weight="bold">d</text>
<rect x="1387" y="1138.2" width="520.9" height="35.3" fill="rgb(251,140,140)"/>
<rect x="1387" y="1173.2" width="520.9" height="34.6" fill="rgb(233,75,75)"/>
<rect x="1387" y="1207.5" width="520.9" height="34.7" fill="rgb(251,136,136)"/>
<rect x="1387" y="1241.9" width="520.9" height="34.7" fill="rgb(147,191,225)"/>
<line x1="1249" y1="1173.2" x2="1387" y2="1173.2" stroke="#d4d4d4" stroke-width="1.3"/>
<line x1="1387" y1="1173.2" x2="1907.9" y2="1173.2" stroke="#5a2020" stroke-width="1.3"/>
<line x1="1249" y1="1207.5" x2="1387" y2="1207.5" stroke="#d4d4d4" stroke-width="1.3"/>
<line x1="1387" y1="1207.5" x2="1907.9" y2="1207.5" stroke="#5a2020" stroke-width="1.3"/>
<line x1="1249" y1="1241.9" x2="1387" y2="1241.9" stroke="#d4d4d4" stroke-width="1.3"/>
<line x1="1387" y1="1241.9" x2="1907.9" y2="1241.9" stroke="#5a2020" stroke-width="1.3"/>
<line x1="1386.8" y1="1101.8" x2="1907.9" y2="1101.8" stroke="#000" stroke-width="2.4"/>
<line x1="1247.6" y1="1138.2" x2="1909.1" y2="1138.2" stroke="#000" stroke-width="2.4"/>
<line x1="1247.6" y1="1276.8" x2="1909.1" y2="1276.8" stroke="#000" stroke-width="2.4"/>
<line x1="1248.8" y1="1138.2" x2="1248.8" y2="1276.8" stroke="#000" stroke-width="2.4"/>
<line x1="1387" y1="1100.6" x2="1387" y2="1278" stroke="#000" stroke-width="2.4"/>
<line x1="1907.9" y1="1100.6" x2="1907.9" y2="1278" stroke="#000" stroke-width="2.4"/>
<text x="1392.9" y="1127" font-size="21.5" textLength="504.2" lengthAdjust="spacingAndGlyphs" stroke="#000" stroke-width="0.35">Radio-responsiveness signature vs all promoters</text>
<text x="1255" y="1163.9" font-size="21.5" textLength="46.7" lengthAdjust="spacingAndGlyphs" stroke="#000" stroke-width="0.35">ELK1</text>
<text x="1255" y="1198.4" font-size="21.5" textLength="71.8" lengthAdjust="spacingAndGlyphs" stroke="#000" stroke-width="0.35">GABPA</text>
<text x="1255" y="1232.9" font-size="21.5" textLength="47" lengthAdjust="spacingAndGlyphs" stroke="#000" stroke-width="0.35">MYC</text>
<text x="1255" y="1266.8" font-size="21.5" textLength="49.5" lengthAdjust="spacingAndGlyphs" stroke="#000" stroke-width="0.35">TP53</text>
<text x="1647.9" y="1176.5" font-size="35" text-anchor="middle" font-weight="bold">*</text>
<text x="1647.9" y="1211" font-size="35" text-anchor="middle" textLength="31.5" lengthAdjust="spacing" font-weight="bold">**</text>
<text x="1647.9" y="1245.5" font-size="35" text-anchor="middle" font-weight="bold">*</text>
<text x="1250.7" y="1356.7" font-size="23.5" textLength="121.3" lengthAdjust="spacingAndGlyphs" stroke="#000" stroke-width="0.35">Log2 odds</text>
<text x="1250.7" y="1392.5" font-size="23.5" textLength="54.7" lengthAdjust="spacingAndGlyphs" stroke="#000" stroke-width="0.35">ratio</text>
<rect x="1451.8" y="1346.7" width="448.7" height="49.8" fill="url(#cb)"/>
<line x1="1452.6" y1="1396.5" x2="1452.6" y2="1431.9" stroke="#000" stroke-width="3.5"/>
<line x1="1674.1" y1="1396.5" x2="1674.1" y2="1431.9" stroke="#000" stroke-width="3.5"/>
<line x1="1899.8" y1="1396.5" x2="1899.8" y2="1431.9" stroke="#000" stroke-width="3.5"/>
<text x="1419" y="1474" font-size="29" textLength="56.5" lengthAdjust="spacingAndGlyphs" stroke="#000" stroke-width="0.35">-1.5</text>
<text x="1672.6" y="1475.7" font-size="29" text-anchor="middle" textLength="19.5" lengthAdjust="spacingAndGlyphs" stroke="#000" stroke-width="0.35">0</text>
<text x="1873" y="1479" font-size="29" textLength="46.5" lengthAdjust="spacingAndGlyphs" stroke="#000" stroke-width="0.35">1.5</text>
<text x="12" y="1612.9" font-size="63" textLength="33" lengthAdjust="spacingAndGlyphs" font-weight="bold">e</text>
<text x="777.6" y="1611.4" font-size="30" textLength="74.2" lengthAdjust="spacingAndGlyphs" stroke="#000" stroke-width="0.35">50bp</text>
<line x1="875.1" y1="1602.5" x2="1295.8" y2="1602.5" stroke="#000" stroke-width="3.6"/>
<line x1="875.1" y1="1591" x2="875.1" y2="1615" stroke="#000" stroke-width="3.6"/>
<line x1="1295.8" y1="1590.7" x2="1295.8" y2="1614.4" stroke="#000" stroke-width="3.6"/>
<rect x="1394.9" y="1661.5" width="200.1" height="186.5" fill="#dadaf7"/>
<rect x="1799.3" y="1661.5" width="47" height="187" fill="#fcddcc"/>
<path d="M283.8 1714.8V1847M300.72 1714.8V1847M317.64 1714.8V1847M334.56 1714.8V1847M351.48 1714.8V1847M368.4 1714.8V1847M385.32 1714.8V1847M402.24 1714.8V1847M419.16 1714.8V1847M436.08 1714.8V1847M453 1714.8V1847M469.92 1714.8V1847M486.84 1714.8V1847M503.76 1714.8V1847M520.68 1714.8V1847M537.6 1714.8V1847M554.52 1714.8V1847M571.44 1714.8V1847M588.36 1714.8V1847M605.28 1714.8V1847M622.2 1714.8V1847M639.12 1714.8V1847M656.04 1714.8V1847M672.96 1714.8V1847M689.88 1714.8V1847M706.8 1714.8V1847M723.72 1714.8V1847M740.64 1714.8V1847M757.56 1714.8V1847M774.48 1714.8V1847M791.4 1714.8V1847M808.32 1714.8V1847M825.24 1714.8V1847M842.16 1714.8V1847M859.08 1714.8V1847M876 1714.8V1847M892.92 1714.8V1847M909.84 1714.8V1847M926.76 1714.8V1847M943.68 1714.8V1847M960.6 1714.8V1847M977.52 1714.8V1847M994.44 1714.8V1847M1011.36 1714.8V1847M1028.28 1714.8V1847M1045.2 1714.8V1847M1062.12 1714.8V1847M1079.04 1714.8V1847M1095.96 1714.8V1847M1112.88 1714.8V1847M1129.8 1714.8V1847M1146.72 1714.8V1847M1163.64 1714.8V1847M1180.56 1714.8V1847M1197.48 1714.8V1847M1214.4 1714.8V1847M1231.32 1714.8V1847M1248.24 1714.8V1847M1265.16 1714.8V1847M1282.08 1714.8V1847M1299 1714.8V1847M1315.92 1714.8V1847M1332.84 1714.8V1847M1349.76 1714.8V1847M1366.68 1714.8V1847M1383.6 1714.8V1847M1400.52 1714.8V1847M1417.44 1714.8V1847M1434.36 1714.8V1847M1451.28 1714.8V1847M1468.2 1714.8V1847M1485.12 1714.8V1847M1502.04 1714.8V1847M1518.96 1714.8V1847M1535.88 1714.8V1847M1552.8 1714.8V1847M1569.72 1714.8V1847M1586.64 1714.8V1847M1603.56 1714.8V1847M1620.48 1714.8V1847M1637.4 1714.8V1847M1654.32 1714.8V1847M1671.24 1714.8V1847M1688.16 1714.8V1847M1705.08 1714.8V1847M1722 1714.8V1847M1738.92 1714.8V1847M1755.84 1714.8V1847M1772.76 1714.8V1847M1789.68 1714.8V1847M1806.6 1714.8V1847M1823.52 1714.8V1847M1840.44 1714.8V1847M1857.36 1714.8V1847M1874.28 1714.8V1847" stroke="#a4a4dc" stroke-opacity="0.23" stroke-width="1.8" fill="none"/>
<text x="267.3" y="1675.4" font-size="12.89" textLength="116.6" lengthAdjust="spacingAndGlyphs" fill="#1c1c1c" font-family='"Liberation Mono", monospace' stroke="#1c1c1c" stroke-width="0.25">CAACTCTTTCAGCG</text>
<rect x="384.3" y="1663.2" width="40.5" height="15.2" fill="#0a0a0a"/>
<text x="384.9" y="1675.4" font-size="12.89" textLength="39.3" lengthAdjust="spacingAndGlyphs" font-weight="bold" fill="#fff" font-family='"Liberation Mono", monospace'>CTTCC</text>
<text x="425.2" y="1675.4" font-size="12.89" textLength="1450.4" lengthAdjust="spacingAndGlyphs" fill="#1c1c1c" font-family='"Liberation Mono", monospace' stroke="#1c1c1c" stroke-width="0.25">TGGAACTCACCACCGTTTTGGGGACCAAGAGGCGGGGCTCCGCGAGCAGGGTGCCTATTGGCCTGAGGGCCGGCGGGCTCTGGGCGCTAATTGGGCGGAGGGCGGTGGCGCTCTGGCACGCTTGCGCGGCGAGTAGAACGTGTGGCGGCGGCGGAGATCGCGTCTCTTTCG</text>
<line x1="1878.2" y1="1663.7" x2="1878.2" y2="1677.7" stroke="#222" stroke-width="1.3"/>
<rect x="1809.9" y="1687" width="71.1" height="17.5" fill="#000"/>
<rect x="1393.2" y="1839.9" width="8.6" height="7.6" fill="#1c1c24"/>
<rect x="1419" y="1835.9" width="8.3" height="11.6" fill="#1c1c24"/>
<rect x="1529.5" y="1844.9" width="8.2" height="2.6" fill="#1c1c24"/>
<rect x="1563.5" y="1803.9" width="7.6" height="43.6" fill="#1c1c24"/>
<rect x="1571.1" y="1842.5" width="8.9" height="5" fill="#1c1c24"/>
<rect x="1714.7" y="1845.5" width="8.2" height="2" fill="#1c1c24"/>
<rect x="1790.7" y="1844.2" width="8.3" height="3.3" fill="#1c1c24"/>
<rect x="1808.2" y="1715.9" width="8.3" height="131.6" fill="#2b1a16"/>
<rect x="1816.5" y="1845" width="8.3" height="2.5" fill="#2b1a16"/>
<rect x="1824.8" y="1839.9" width="8.2" height="7.6" fill="#2b1a16"/>
<line x1="262.5" y1="1716.3" x2="262.5" y2="1850.5" stroke="#000" stroke-width="4"/>
<line x1="260.5" y1="1848.5" x2="1870.4" y2="1848.5" stroke="#000" stroke-width="4"/>
<text x="13.8" y="1799" font-size="38.4" textLength="100" lengthAdjust="spacingAndGlyphs" stroke="#000" stroke-width="0.5">SND1</text>
<text x="174.6" y="1728.1" font-size="30" textLength="76" lengthAdjust="spacingAndGlyphs" stroke="#000" stroke-width="0.35">1000</text>
<text x="232" y="1859.7" font-size="30" textLength="16.9" lengthAdjust="spacingAndGlyphs" stroke="#000" stroke-width="0.35">0</text>
<text x="309.2" y="1610.5" font-size="24.3" textLength="355.8" lengthAdjust="spacingAndGlyphs" stroke="#000" stroke-width="0.35">GABPA motif (reverse strand)</text>
<line x1="309.5" y1="1615.8" x2="387.2" y2="1666" stroke="#000" stroke-width="3.2"/>
<line x1="424.2" y1="1667" x2="663.2" y2="1623.2" stroke="#000" stroke-width="3.2"/>
<rect x="623.9" y="1944.9" width="580.9" height="191.1" fill="#dadaf7"/>
<rect x="1706.7" y="1944.6" width="89" height="196.8" fill="#fcddcc"/>
<path d="M278.5 2006V2134M295.4 2006V2134M312.3 2006V2134M329.2 2006V2134M346.1 2006V2134M363 2006V2134M379.9 2006V2134M396.8 2006V2134M413.7 2006V2134M430.6 2006V2134M447.5 2006V2134M464.4 2006V2134M481.3 2006V2134M498.2 2006V2134M515.1 2006V2134M532 2006V2134M548.9 2006V2134M565.8 2006V2134M582.7 2006V2134M599.6 2006V2134M616.5 2006V2134M633.4 2006V2134M650.3 2006V2134M667.2 2006V2134M684.1 2006V2134M701 2006V2134M717.9 2006V2134M734.8 2006V2134M751.7 2006V2134M768.6 2006V2134M785.5 2006V2134M802.4 2006V2134M819.3 2006V2134M836.2 2006V2134M853.1 2006V2134M870 2006V2134M886.9 2006V2134M903.8 2006V2134M920.7 2006V2134M937.6 2006V2134M954.5 2006V2134M971.4 2006V2134M988.3 2006V2134M1005.2 2006V2134M1022.1 2006V2134M1039 2006V2134M1055.9 2006V2134M1072.8 2006V2134M1089.7 2006V2134M1106.6 2006V2134M1123.5 2006V2134M1140.4 2006V2134M1157.3 2006V2134M1174.2 2006V2134M1191.1 2006V2134M1208 2006V2134M1224.9 2006V2134M1241.8 2006V2134M1258.7 2006V2134M1275.6 2006V2134M1292.5 2006V2134M1309.4 2006V2134M1326.3 2006V2134M1343.2 2006V2134M1360.1 2006V2134M1377 2006V2134M1393.9 2006V2134M1410.8 2006V2134M1427.7 2006V2134M1444.6 2006V2134M1461.5 2006V2134M1478.4 2006V2134M1495.3 2006V2134M1512.2 2006V2134M1529.1 2006V2134M1546 2006V2134M1562.9 2006V2134M1579.8 2006V2134M1596.7 2006V2134M1613.6 2006V2134M1630.5 2006V2134M1647.4 2006V2134M1664.3 2006V2134M1681.2 2006V2134M1698.1 2006V2134M1715 2006V2134M1731.9 2006V2134M1748.8 2006V2134M1765.7 2006V2134M1782.6 2006V2134M1799.5 2006V2134M1816.4 2006V2134M1833.3 2006V2134M1850.2 2006V2134M1867.1 2006V2134" stroke="#a4a4dc" stroke-opacity="0.23" stroke-width="1.8" fill="none"/>
<line x1="259" y1="1945.5" x2="1869" y2="1945.5" stroke="#eeeeee" stroke-width="1"/>
<line x1="259" y1="1962.5" x2="1869" y2="1962.5" stroke="#d8d8d8" stroke-width="1.2"/>
<text x="262" y="1958.9" font-size="12.63" textLength="1360" lengthAdjust="spacingAndGlyphs" fill="#1c1c1c" font-family='"Liberation Mono", monospace' stroke="#1c1c1c" stroke-width="0.25">GTCCGGGTCAGTCTCGTCCGTCGGTCGGGGCTGGCGCGGTGCATCGTGGGCACTGTAGTTTCCGCCGCGTTTATGGCCGCGTTAAGTCTGAGTGCCGCTTTGAGTTGTTGAATGAAGTGAACTTCATTTGTCAGCGTTCGGTACGCAGTCTAGGCAGCGCC</text>
<rect x="1622.4" y="1946.9" width="41" height="15" fill="#0a0a0a"/>
<text x="1623" y="1958.9" font-size="12.63" textLength="39.8" lengthAdjust="spacingAndGlyphs" font-weight="bold" fill="#fff" font-family='"Liberation Mono", monospace'>CTTCC</text>
<text x="1663.8" y="1958.9" font-size="12.63" textLength="76.2" lengthAdjust="spacingAndGlyphs" fill="#1c1c1c" font-family='"Liberation Mono", monospace' stroke="#1c1c1c" stroke-width="0.25">TGTACCTCT</text>
<rect x="1740.4" y="1946.9" width="40.7" height="15" fill="#0a0a0a"/>
<text x="1741" y="1958.9" font-size="12.63" textLength="39.5" lengthAdjust="spacingAndGlyphs" font-weight="bold" fill="#fff" font-family='"Liberation Mono", monospace'>CTTCC</text>
<text x="1781.5" y="1958.9" font-size="12.63" textLength="85.9" lengthAdjust="spacingAndGlyphs" fill="#1c1c1c" font-family='"Liberation Mono", monospace' stroke="#1c1c1c" stroke-width="0.25">TTTCCTGAGT</text>
<line x1="1870.3" y1="1947.3" x2="1870.3" y2="1961.3" stroke="#222" stroke-width="1.3"/>
<rect x="739.1" y="1973.3" width="1137.4" height="18" fill="#000"/>
<rect x="661.1" y="2132" width="8.3" height="3" fill="#1c1c24"/>
<rect x="694.8" y="2092.1" width="8.3" height="42.9" fill="#1c1c24"/>
<rect x="720.2" y="2127.6" width="8.3" height="7.4" fill="#1c1c24"/>
<rect x="737.1" y="2007" width="8.3" height="128" fill="#1c1c24"/>
<rect x="771" y="2133.5" width="8.4" height="1.5" fill="#1c1c24"/>
<rect x="796.2" y="2123.8" width="8.3" height="11.2" fill="#1c1c24"/>
<rect x="821.3" y="2123.8" width="8.3" height="11.2" fill="#1c1c24"/>
<rect x="838.2" y="2107.8" width="8.2" height="27.2" fill="#1c1c24"/>
<rect x="872.2" y="2119.3" width="8.2" height="15.7" fill="#1c1c24"/>
<rect x="965" y="2131.5" width="8.3" height="3.5" fill="#1c1c24"/>
<rect x="999" y="2133" width="8" height="2" fill="#1c1c24"/>
<rect x="1015.9" y="2112.2" width="8.3" height="22.8" fill="#1c1c24"/>
<rect x="1032.4" y="2129.7" width="8.3" height="5.3" fill="#1c1c24"/>
<rect x="1117.3" y="2129.7" width="7.9" height="5.3" fill="#1c1c24"/>
<rect x="1184.7" y="2129.7" width="7.9" height="5.3" fill="#1c1c24"/>
<rect x="1725.6" y="2128" width="8.2" height="7" fill="#2b1a16"/>
<rect x="1733.8" y="2132.5" width="9" height="2.5" fill="#2b1a16"/>
<rect x="1742.8" y="2126.7" width="8.2" height="8.3" fill="#2b1a16"/>
<rect x="1751" y="2132.5" width="8.5" height="2.5" fill="#2b1a16"/>
<rect x="1759.5" y="2133" width="8.4" height="2" fill="#2b1a16"/>
<rect x="1767.9" y="2112.5" width="8.3" height="22.5" fill="#2b1a16"/>
<rect x="1776.2" y="2080.4" width="8.2" height="54.6" fill="#2b1a16"/>
<line x1="259.2" y1="2003.5" x2="259.2" y2="2137.6" stroke="#000" stroke-width="4"/>
<line x1="257.2" y1="2135.6" x2="1867" y2="2135.6" stroke="#000" stroke-width="4"/>
<text x="16.6" y="2083.3" font-size="38.4" textLength="123" lengthAdjust="spacingAndGlyphs" stroke="#000" stroke-width="0.5">PRORP</text>
<text x="212.2" y="2010.8" font-size="30" textLength="35.5" lengthAdjust="spacingAndGlyphs" stroke="#000" stroke-width="0.35">45</text>
<text x="227" y="2144.8" font-size="30" textLength="16.9" lengthAdjust="spacingAndGlyphs" stroke="#000" stroke-width="0.35">0</text>
<text x="1441.2" y="1893" font-size="24.3" textLength="435.8" lengthAdjust="spacingAndGlyphs" stroke="#000" stroke-width="0.35">GABPA/ELK1 motifs (reverse strand)</text>
<line x1="1445.9" y1="1902.6" x2="1625" y2="1948.7" stroke="#000" stroke-width="3.2"/>
<line x1="1879.2" y1="1907.3" x2="1778.7" y2="1949.9" stroke="#000" stroke-width="3.2"/>
<rect x="1179.7" y="2217.6" width="24.3" height="196.4" fill="#fcddcc"/>
<path d="M283.8 2282V2413M300.71 2282V2413M317.61 2282V2413M334.52 2282V2413M351.43 2282V2413M368.33 2282V2413M385.24 2282V2413M402.15 2282V2413M419.06 2282V2413M435.96 2282V2413M452.87 2282V2413M469.78 2282V2413M486.68 2282V2413M503.59 2282V2413M520.5 2282V2413M537.4 2282V2413M554.31 2282V2413M571.22 2282V2413M588.13 2282V2413M605.03 2282V2413M621.94 2282V2413M638.85 2282V2413M655.75 2282V2413M672.66 2282V2413M689.57 2282V2413M706.48 2282V2413M723.38 2282V2413M740.29 2282V2413M757.2 2282V2413M774.1 2282V2413M791.01 2282V2413M807.92 2282V2413M824.82 2282V2413M841.73 2282V2413M858.64 2282V2413M875.55 2282V2413M892.45 2282V2413M909.36 2282V2413M926.27 2282V2413M943.17 2282V2413M960.08 2282V2413M976.99 2282V2413M993.89 2282V2413M1010.8 2282V2413M1027.71 2282V2413M1044.62 2282V2413M1061.52 2282V2413M1078.43 2282V2413M1095.34 2282V2413M1112.24 2282V2413M1129.15 2282V2413M1146.06 2282V2413M1162.96 2282V2413M1179.87 2282V2413M1196.78 2282V2413M1213.69 2282V2413M1230.59 2282V2413M1247.5 2282V2413M1264.41 2282V2413M1281.31 2282V2413M1298.22 2282V2413M1315.13 2282V2413M1332.03 2282V2413M1348.94 2282V2413M1365.85 2282V2413M1382.75 2282V2413M1399.66 2282V2413M1416.57 2282V2413M1433.48 2282V2413M1450.38 2282V2413M1467.29 2282V2413M1484.2 2282V2413M1501.1 2282V2413M1518.01 2282V2413M1534.92 2282V2413M1551.82 2282V2413M1568.73 2282V2413M1585.64 2282V2413M1602.55 2282V2413M1619.45 2282V2413M1636.36 2282V2413M1653.27 2282V2413M1670.17 2282V2413M1687.08 2282V2413M1703.99 2282V2413M1720.89 2282V2413M1737.8 2282V2413M1754.71 2282V2413M1771.62 2282V2413M1788.52 2282V2413M1805.43 2282V2413M1822.34 2282V2413M1839.24 2282V2413M1856.15 2282V2413" stroke="#a4a4dc" stroke-opacity="0.23" stroke-width="1.8" fill="none"/>
<line x1="267.3" y1="2223" x2="267.3" y2="2238" stroke="#f6c4c4" stroke-width="1.3"/>
<text x="270.9" y="2235" font-size="14.47" textLength="199.7" lengthAdjust="spacingAndGlyphs" fill="#1c1c1c" font-family='"Liberation Mono", monospace' stroke="#1c1c1c" stroke-width="0.25">ACTGCCGCCTGGACCAAGGCAACA</text>
<rect x="471" y="2221.6" width="41.4" height="16.4" fill="#0a0a0a"/>
<text x="471.6" y="2235" font-size="14.47" textLength="40.2" lengthAdjust="spacingAndGlyphs" font-weight="bold" fill="#fff" font-family='"Liberation Mono", monospace'>GGAAG</text>
<text x="512.8" y="2235" font-size="14.47" textLength="971.1" lengthAdjust="spacingAndGlyphs" fill="#1c1c1c" font-family='"Liberation Mono", monospace' stroke="#1c1c1c" stroke-width="0.25">TGAGTACCTCTATTCCGGAAACTAGTTATGAACCCTCCCCGCCCCCCGTCGCCAACATTCCTTCGTTCCCCTAAATCAGCCTCTTGCCCCATTGCTCTTTGCAGGGGTAGAAGAA</text>
<rect x="1484.3" y="2221.6" width="40.8" height="16.4" fill="#0a0a0a"/>
<text x="1484.9" y="2235" font-size="14.47" textLength="39.6" lengthAdjust="spacingAndGlyphs" font-weight="bold" fill="#fff" font-family='"Liberation Mono", monospace'>GGAAG</text>
<text x="1525.5" y="2235" font-size="14.47" textLength="346.2" lengthAdjust="spacingAndGlyphs" fill="#1c1c1c" font-family='"Liberation Mono", monospace' stroke="#1c1c1c" stroke-width="0.25">TGTAGCGGGGTAAGGAATGCACCGTCAGGGTCTCTCACAAC</text>
<line x1="1876" y1="2222.7" x2="1876" y2="2236.7" stroke="#222" stroke-width="1.3"/>
<rect x="1186.8" y="2248.1" width="690.2" height="18.3" fill="#000"/>
<rect x="1023" y="2412.8" width="7" height="1.2" fill="#1c1c24"/>
<rect x="1056" y="2411.8" width="7.5" height="2.2" fill="#1c1c24"/>
<rect x="1190.7" y="2283.6" width="7.9" height="130.4" fill="#2b1a16"/>
<rect x="1277" y="2412.8" width="8" height="1.2" fill="#1c1c24"/>
<line x1="263.1" y1="2282.1" x2="263.1" y2="2416.8" stroke="#000" stroke-width="4"/>
<line x1="261.1" y1="2414.8" x2="1870.9" y2="2414.8" stroke="#000" stroke-width="4"/>
<text x="14.6" y="2361" font-size="38.4" textLength="137" lengthAdjust="spacingAndGlyphs" stroke="#000" stroke-width="0.5">GMPR2</text>
<text x="196" y="2291.5" font-size="30" textLength="56.5" lengthAdjust="spacingAndGlyphs" stroke="#000" stroke-width="0.35">200</text>
<text x="233.5" y="2420.1" font-size="30" textLength="16.3" lengthAdjust="spacingAndGlyphs" stroke="#000" stroke-width="0.35">0</text>
<text x="467.2" y="2180.2" font-size="24.3" textLength="156.7" lengthAdjust="spacingAndGlyphs" stroke="#000" stroke-width="0.35">GABPA motif</text>
<line x1="391.7" y1="2185.2" x2="470" y2="2225.6" stroke="#000" stroke-width="3.2"/>
<line x1="745.9" y1="2192.6" x2="512.4" y2="2224.4" stroke="#000" stroke-width="3.2"/>
<text x="1480.5" y="2183" font-size="24.3" textLength="156" lengthAdjust="spacingAndGlyphs" stroke="#000" stroke-width="0.35">GABPA motif</text>
<line x1="1405.6" y1="2186" x2="1484.3" y2="2225.6" stroke="#000" stroke-width="3.2"/>
<line x1="1759.8" y1="2193.1" x2="1525.1" y2="2224.4" stroke="#000" stroke-width="3.2"/>
<rect x="867.7" y="2508.7" width="75.2" height="185.3" fill="#dadaf7"/>
<rect x="1330.1" y="2492.4" width="25.1" height="201.6" fill="#fcddcc"/>
<path d="M282.3 2565.4V2693M299.2 2565.4V2693M316.1 2565.4V2693M333 2565.4V2693M349.9 2565.4V2693M366.8 2565.4V2693M383.7 2565.4V2693M400.6 2565.4V2693M417.5 2565.4V2693M434.4 2565.4V2693M451.3 2565.4V2693M468.2 2565.4V2693M485.1 2565.4V2693M502 2565.4V2693M518.9 2565.4V2693M535.8 2565.4V2693M552.7 2565.4V2693M569.6 2565.4V2693M586.5 2565.4V2693M603.4 2565.4V2693M620.3 2565.4V2693M637.2 2565.4V2693M654.1 2565.4V2693M671 2565.4V2693M687.9 2565.4V2693M704.8 2565.4V2693M721.7 2565.4V2693M738.6 2565.4V2693M755.5 2565.4V2693M772.4 2565.4V2693M789.3 2565.4V2693M806.2 2565.4V2693M823.1 2565.4V2693M840 2565.4V2693M856.9 2565.4V2693M873.8 2565.4V2693M890.7 2565.4V2693M907.6 2565.4V2693M924.5 2565.4V2693M941.4 2565.4V2693M958.3 2565.4V2693M975.2 2565.4V2693M992.1 2565.4V2693M1009 2565.4V2693M1025.9 2565.4V2693M1042.8 2565.4V2693M1059.7 2565.4V2693M1076.6 2565.4V2693M1093.5 2565.4V2693M1110.4 2565.4V2693M1127.3 2565.4V2693M1144.2 2565.4V2693M1161.1 2565.4V2693M1178 2565.4V2693M1194.9 2565.4V2693M1211.8 2565.4V2693M1228.7 2565.4V2693M1245.6 2565.4V2693M1262.5 2565.4V2693M1279.4 2565.4V2693M1296.3 2565.4V2693M1313.2 2565.4V2693M1330.1 2565.4V2693M1347 2565.4V2693M1363.9 2565.4V2693M1380.8 2565.4V2693M1397.7 2565.4V2693M1414.6 2565.4V2693M1431.5 2565.4V2693M1448.4 2565.4V2693M1465.3 2565.4V2693M1482.2 2565.4V2693M1499.1 2565.4V2693M1516 2565.4V2693M1532.9 2565.4V2693M1549.8 2565.4V2693M1566.7 2565.4V2693M1583.6 2565.4V2693M1600.5 2565.4V2693M1617.4 2565.4V2693M1634.3 2565.4V2693M1651.2 2565.4V2693M1668.1 2565.4V2693M1685 2565.4V2693M1701.9 2565.4V2693M1718.8 2565.4V2693M1735.7 2565.4V2693M1752.6 2565.4V2693M1769.5 2565.4V2693M1786.4 2565.4V2693M1803.3 2565.4V2693M1820.2 2565.4V2693M1837.1 2565.4V2693M1854 2565.4V2693M1870.9 2565.4V2693" stroke="#a4a4dc" stroke-opacity="0.23" stroke-width="1.8" fill="none"/>
<line x1="262.1" y1="2493" x2="262.1" y2="2511.5" stroke="#f6c4c4" stroke-width="1.3"/>
<text x="266.4" y="2507.55" font-size="14.61" textLength="141.7" lengthAdjust="spacingAndGlyphs" fill="#1c1c1c" font-family='"Liberation Mono", monospace' stroke="#1c1c1c" stroke-width="0.25">TGACCTCCCAGAAGAGT</text>
<rect x="408.5" y="2494.05" width="48.8" height="16.5" fill="#0a0a0a"/>
<text x="409.1" y="2507.55" font-size="14.61" textLength="47.6" lengthAdjust="spacingAndGlyphs" font-weight="bold" fill="#fff" font-family='"Liberation Mono", monospace'>CACGTG</text>
<text x="457.7" y="2507.55" font-size="14.61" textLength="330.7" lengthAdjust="spacingAndGlyphs" fill="#1c1c1c" font-family='"Liberation Mono", monospace' stroke="#1c1c1c" stroke-width="0.25">GGCTGACCCAGAGCCGGGGCGGAAAGGCTGCGTTTGTTT</text>
<rect x="788.8" y="2494.05" width="56.8" height="16.5" fill="#0a0a0a"/>
<text x="789.4" y="2507.55" font-size="14.61" textLength="55.6" lengthAdjust="spacingAndGlyphs" font-weight="bold" fill="#fff" font-family='"Liberation Mono", monospace'>CTTCCGG</text>
<text x="846" y="2507.55" font-size="14.61" textLength="1024.6" lengthAdjust="spacingAndGlyphs" fill="#1c1c1c" font-family='"Liberation Mono", monospace' stroke="#1c1c1c" stroke-width="0.25">GTCATTGACAGAAGCGTCAATTCCTGGGAGTAGTTCGTTGGTTTTCTTTCCCCTCATCCTTTTGCCTGCTCCCGGCGAGGGGTGGCTTTGATTTCGGCGATGAGCTCCCAGAAAGGCAACG</text>
<rect x="875.1" y="2536" width="808.9" height="18" fill="#000"/>
<rect x="1683" y="2524.3" width="189.1" height="35.5" fill="#000"/>
<rect x="1872" y="2536" width="2.5" height="18" fill="#000"/>
<rect x="876" y="2657.5" width="8" height="36" fill="#1c1c24"/>
<rect x="901.6" y="2687.5" width="7.9" height="6" fill="#1c1c24"/>
<rect x="926.6" y="2651.5" width="8" height="42" fill="#1c1c24"/>
<rect x="1231" y="2691.5" width="8" height="2" fill="#1c1c24"/>
<rect x="1332.2" y="2683.2" width="8.2" height="10.3" fill="#2b1a16"/>
<rect x="1340.4" y="2566.9" width="8.3" height="126.6" fill="#2b1a16"/>
<line x1="263.1" y1="2562.8" x2="263.1" y2="2696.6" stroke="#000" stroke-width="4"/>
<line x1="261.1" y1="2694.6" x2="1871" y2="2694.6" stroke="#000" stroke-width="4"/>
<text x="14.6" y="2642.3" font-size="38.4" textLength="144" lengthAdjust="spacingAndGlyphs" stroke="#000" stroke-width="0.5">C9orf85</text>
<text x="195.3" y="2575.2" font-size="30" textLength="56.5" lengthAdjust="spacingAndGlyphs" stroke="#000" stroke-width="0.35">100</text>
<text x="233.5" y="2703" font-size="30" textLength="15.7" lengthAdjust="spacingAndGlyphs" stroke="#000" stroke-width="0.35">0</text>
<text x="424.2" y="2458.5" font-size="24.3" textLength="121.6" lengthAdjust="spacingAndGlyphs" stroke="#000" stroke-width="0.35">Myc motif</text>
<line x1="330.5" y1="2454" x2="409.4" y2="2495.4" stroke="#000" stroke-width="3.2"/>
<line x1="692.7" y1="2464.5" x2="457.1" y2="2498.3" stroke="#000" stroke-width="3.2"/>
<text x="751" y="2458.5" font-size="24.3" textLength="326.4" lengthAdjust="spacingAndGlyphs" stroke="#000" stroke-width="0.35">ELK1 motif (reverse strand)</text>
<line x1="735.6" y1="2458.5" x2="789.7" y2="2495.4" stroke="#000" stroke-width="3.2"/>
<line x1="1082.4" y1="2464.9" x2="845.6" y2="2498" stroke="#000" stroke-width="3.2"/>
</svg>
</body></html>
